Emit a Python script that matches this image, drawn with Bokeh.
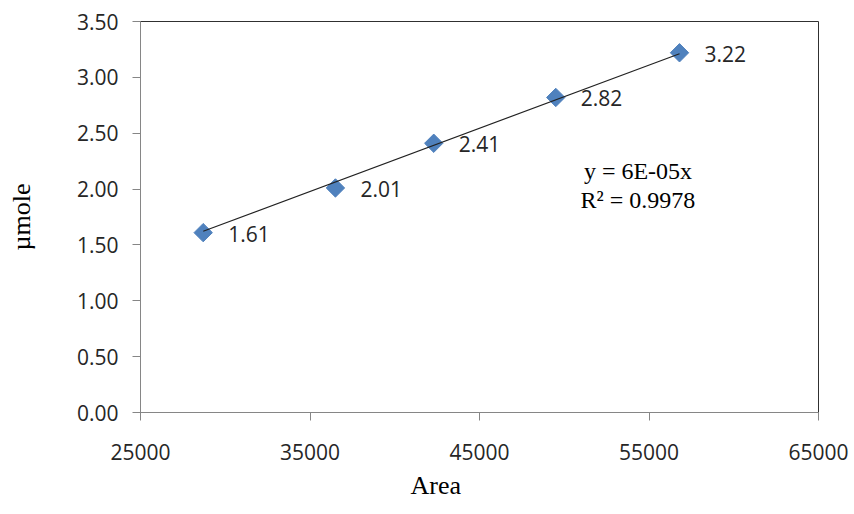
import numpy as np
from bokeh.plotting import figure
from bokeh.models import (Range1d, FixedTicker, NumeralTickFormatter,
                          PrintfTickFormatter, Label, Title, ColumnDataSource)
from bokeh.core.properties import value
from bokeh.embed import file_html
from bokeh.resources import INLINE

# ---- data ----
area = [28700, 36500, 42300, 49500, 56800]
umole = [1.61, 2.01, 2.41, 2.82, 3.22]
point_labels = ["1.61", "2.01", "2.41", "2.82", "3.22"]
x_ticks = [25000, 35000, 45000, 55000, 65000]
y_ticks = [0.0, 0.5, 1.0, 1.5, 2.0, 2.5, 3.0, 3.5]
equation_lines = ["y = 6E-05x", "R\u00b2 = 0.9978"]
x_title = "Area"
y_title = "\u00b5mole"

SANS = "Open Sans"
SERIF = "Liberation Serif"
TXT = "#262626"
AXIS = "#868686"
BLUE = "#4F81BD"

p = figure(width=852, height=512, output_backend="svg", toolbar_location=None,
           x_range=Range1d(25000, 65000), y_range=Range1d(0, 3.5),
           min_border_left=140, min_border_right=34, min_border_top=21,
           min_border_bottom=100)
p.xgrid.visible = False
p.ygrid.visible = False
p.outline_line_color = "#303030"
p.outline_line_width = 1
p.background_fill_color = "white"
p.border_fill_color = "white"

# axes
for ax in (p.xaxis[0], p.yaxis[0]):
    ax.axis_line_color = AXIS
    ax.major_tick_line_color = AXIS
    ax.minor_tick_line_color = None
    ax.major_tick_in = 0
    ax.major_tick_out = 8
    ax.major_label_text_font = SANS
    ax.major_label_text_font_size = "21px"
    ax.major_label_text_color = TXT

p.xaxis.ticker = FixedTicker(ticks=x_ticks)
p.xaxis.formatter = PrintfTickFormatter(format="%d")
p.xaxis.major_label_standoff = 23

p.yaxis.ticker = FixedTicker(ticks=y_ticks)
p.yaxis.formatter = NumeralTickFormatter(format="0.00")
p.yaxis.major_label_standoff = 14
p.yaxis.axis_label = y_title
p.yaxis.axis_label_text_font = SERIF
p.yaxis.axis_label_text_font_size = "26px"
p.yaxis.axis_label_text_font_style = "normal"
p.yaxis.axis_label_text_color = "black"
p.yaxis.axis_label_standoff = 38

src = ColumnDataSource(dict(x=area, y=umole, label=point_labels))

# markers
p.scatter("x", "y", source=src, marker="square", size=13, angle=np.pi / 4,
          fill_color=BLUE, line_color=BLUE)

# linear trendline through origin (least squares)
xa = np.array(area, dtype=float)
ya = np.array(umole, dtype=float)
k = float((xa * ya).sum() / (xa * xa).sum())
xl = [xa.min(), xa.max()]
p.line(xl, [k * v for v in xl], line_color="#222222", line_width=1.2)

# data labels
p.text("x", "y", text="label", source=src, x_offset=25, y_offset=1,
       text_font=value(SANS), text_font_size="21px", text_color=TXT,
       text_baseline="middle", text_align="left")

# trendline equation
p.add_layout(Label(x=54350, y=2.16, text=equation_lines[0], text_align="center",
                   text_baseline="alphabetic", text_font=SERIF,
                   text_font_size="24px", text_color="black"))
p.add_layout(Label(x=54350, y=1.90, text=equation_lines[1], text_align="center",
                   text_baseline="alphabetic", text_font=SERIF,
                   text_font_size="24px", text_color="black"))

# x axis title (placed left of centre as in the reference)
p.add_layout(Title(text=x_title, align="left", offset=270, text_font=SERIF,
                   text_font_size="26px", text_font_style="normal",
                   text_color="black", standoff=12), "below")

open("out.html", "w").write(file_html(p, INLINE))
